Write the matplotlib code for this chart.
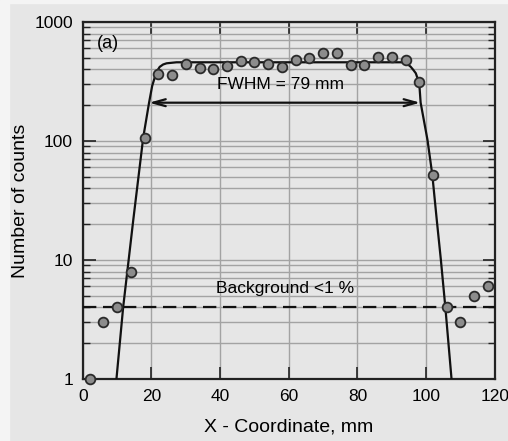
import matplotlib.pyplot as plt
from matplotlib.patches import Rectangle
from matplotlib.ticker import LogLocator, NullFormatter, FixedLocator

plt.rcParams['font.family'] = ['Liberation Sans', 'DejaVu Sans']

# measured counts along X, 4 mm step
x_pts = [2, 6, 10, 14, 18, 22, 26, 30, 34, 38, 42, 46, 50, 54, 58,
         62, 66, 70, 74, 78, 82, 86, 90, 94, 98, 102, 106, 110, 114, 118]
counts = [1, 3, 4, 8, 107, 366, 357, 446, 413, 405, 429, 467, 461, 446, 419,
          480, 499, 552, 546, 438, 433, 511, 511, 480, 313, 52, 4, 3, 5, 6]

# fitted profile (knots)
fit_x = [9.8, 11.75, 13.35, 14.7, 17.6, 19.3, 20.2, 21.0, 21.7, 22.4, 23.4,
         24.4, 27.3, 93.0, 94.5, 95.5, 96.3, 97.0, 98.0, 98.4, 100.4, 101.8,
         103.1, 104.3, 105.6, 107.4]
fit_y = [1, 4, 10, 21.7, 107, 210, 290, 346, 390, 420, 440,
         450, 459, 459, 445, 421, 395, 371, 305, 210, 102, 52,
         21.7, 10, 4, 1]

fwhm_left, fwhm_right, fwhm_level = 19.3, 98.3, 210
background = 4

bg = '#e6e6e6'
fig = plt.figure(figsize=(5.08, 4.41), dpi=100, facecolor=bg)
# thin light margin on the top and left edges
fig.patches.append(Rectangle((0, 0), 9 / 508, 1, transform=fig.transFigure,
                             color='#f4f4f4', zorder=-1))
fig.patches.append(Rectangle((0, 1 - 3 / 441), 1, 3 / 441, transform=fig.transFigure,
                             color='#f4f4f4', zorder=-1))

ax = fig.add_axes([0.163, 0.1406, 0.811, 0.8094])
ax.set_facecolor(bg)

ax.set_yscale('log')
ax.set_xlim(0, 120)
ax.set_ylim(1, 1000)

ax.xaxis.set_major_locator(FixedLocator([0, 20, 40, 60, 80, 100, 120]))
ax.yaxis.set_minor_locator(LogLocator(base=10, subs=range(2, 10)))
ax.yaxis.set_minor_formatter(NullFormatter())
ax.set_yticks([1, 10, 100, 1000])
ax.set_yticklabels(['1', '10', '100', '1000'])

ax.grid(True, which='major', axis='both', color='#a3a3a3', lw=1.0)
ax.grid(True, which='minor', axis='y', color='#a3a3a3', lw=1.0)
ax.set_axisbelow(True)

ax.tick_params(which='both', direction='in', top=True, right=True,
               labelsize=12.5, color='#222222', pad=7)
ax.tick_params(which='major', length=9, width=1.2)
ax.tick_params(which='minor', length=5, width=1.0)
for s in ax.spines.values():
    s.set_linewidth(1.6)
    s.set_color('#222222')

ax.plot(fit_x, fit_y, color='#111111', lw=1.6, zorder=3)
ax.axhline(background, color='#111111', lw=1.6, dashes=(6, 3), zorder=3)
ax.plot(x_pts, counts, 'o', ms=7, mfc='#8c8c8c', mec='#2a2a2a', mew=1.3,
        zorder=4, clip_on=False)

ax.annotate('', xy=(fwhm_right, fwhm_level), xytext=(fwhm_left, fwhm_level),
            arrowprops=dict(arrowstyle='<->,head_length=0.9,head_width=0.25',
                            color='#111111', lw=1.6, shrinkA=0, shrinkB=0),
            zorder=5)
ax.text(57.5, 301, 'FWHM = 79 mm', ha='center', va='center', fontsize=12.5)
ax.text(59, 5.8, 'Background <1 %', ha='center', va='center', fontsize=12.5)
ax.text(4, 666, '(a)', ha='left', va='center', fontsize=13)

ax.set_xlabel('X - Coordinate, mm', fontsize=14, labelpad=11)
ax.set_ylabel('Number of counts', fontsize=14, labelpad=4)

fig.savefig('out.png', dpi=100, facecolor=bg)
